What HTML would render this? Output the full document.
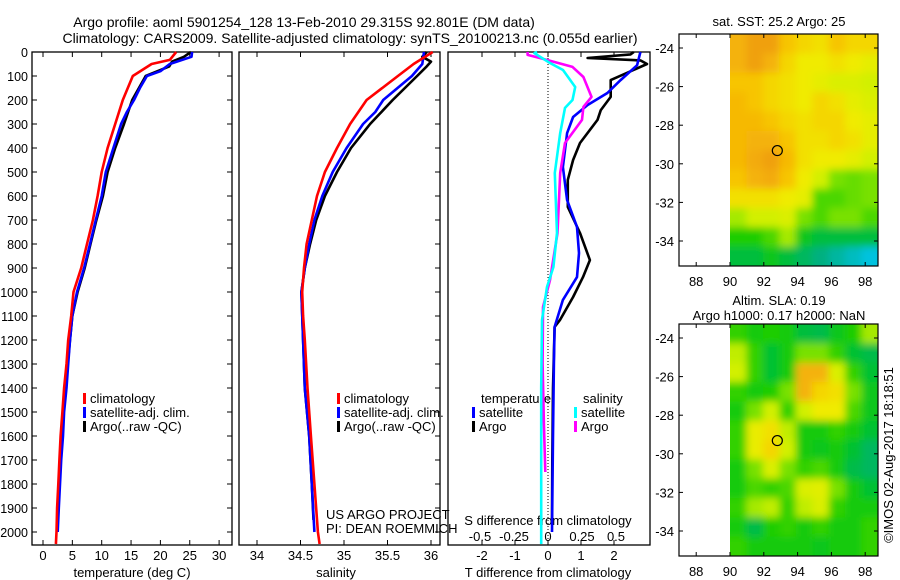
<!DOCTYPE html>
<html><head><meta charset="utf-8"><style>
html,body{margin:0;padding:0;background:#fff;}
svg{display:block;font-family:"Liberation Sans",sans-serif;}
</style></head><body>
<svg id="c" width="900" height="580" viewBox="0 0 900 580">
<defs><clipPath id="clipA"><rect x="730" y="34" width="148" height="232"/></clipPath><clipPath id="clipB"><rect x="730" y="324" width="148" height="232"/></clipPath>
<filter id="soft" x="-5%" y="-5%" width="110%" height="110%"><feGaussianBlur stdDeviation="4"/></filter></defs>
<text x="304" y="27" font-size="14" text-anchor="middle">Argo profile: aoml 5901254_128 13-Feb-2010 29.315S 92.801E (DM data)</text>
<text x="350" y="43" font-size="14" text-anchor="middle">Climatology: CARS2009. Satellite-adjusted climatology: synTS_20100213.nc (0.055d earlier)</text>
<text x="132" y="577" font-size="13" text-anchor="middle">temperature (deg C)</text>
<text x="336" y="577" font-size="13" text-anchor="middle">salinity</text>
<text x="548" y="577" font-size="13" text-anchor="middle">T difference from climatology</text>
<text x="548" y="525" font-size="13" text-anchor="middle">S difference from climatology</text>
<text x="326" y="519" font-size="13">US ARGO PROJECT</text>
<text x="326" y="533" font-size="13">PI: DEAN ROEMMICH</text>
<text x="779" y="26" font-size="13" text-anchor="middle">sat. SST: 25.2 Argo: 25</text>
<text x="779" y="305" font-size="13" text-anchor="middle">Altim. SLA: 0.19</text>
<text x="779" y="320" font-size="13" text-anchor="middle">Argo h1000: 0.17 h2000: NaN</text>
<text transform="translate(893,455) rotate(-90)" font-size="13" text-anchor="middle">©IMOS 02-Aug-2017 18:18:51</text>
</svg>
<script>
// depth axis
const depthTicks=[0,100,200,300,400,500,600,700,800,900,1000,1100,1200,1300,1400,1500,1600,1700,1800,1900,2000];
// temperature panel
const tTicks=[0,5,10,15,20,25,30];
const tClimD=[0,33,50,100,200,300,400,500,600,700,800,900,1000,1100,1200,1300,1400,1500,1600,1700,1800,1900,2000,2050];
const tClim=[22.7,21.6,18.5,15.3,13.6,12.3,11,10,9.3,8.5,7.5,6.5,5.2,4.8,4.3,4.0,3.6,3.3,3.0,2.8,2.6,2.4,2.3,2.2];
const tSatD=[0,20,50,80,100,150,200,250,300,400,500,600,700,800,900,1000,1100,1200,1300,1400,1500,1600,1700,1800,1900,2000];
const tSat=[25.4,25.3,21.6,20,17.7,16.5,15.5,14.3,13.3,12,10.7,10,9,8,7,5.8,5,4.6,4.3,4,3.6,3.4,3.1,2.9,2.7,2.5];
const tArgoD=[0,20,40,60,100,200,300,400,500,600,700,800,900,1000,1100,1200,1300,1400,1500,1600,1700,1800,1900,1950];
const tArgo=[25.2,24,22,21.5,17.5,15.2,13.8,12.3,11,10.2,9.1,8.1,7.1,5.9,5,4.6,4.2,3.9,3.5,3.3,3.0,2.8,2.6,2.5];
// salinity panel
const sTicks=[34,34.5,35,35.5,36];
const sTickLabels=["34","34.5","35","35.5","36"];
const sClimD=[0,50,100,200,300,400,500,600,700,800,900,1000,1100,1200,1400,1600,1800,2000,2050];
const sClim=[36.02,35.8,35.62,35.26,35.07,34.92,34.78,34.69,34.63,34.57,34.54,34.52,34.53,34.55,34.58,34.62,34.66,34.7,34.72];
const sSatD=[0,50,100,200,250,300,400,500,600,700,800,900,1000,1200,1400,1600,1800,2000];
const sSat=[35.92,35.9,35.78,35.45,35.36,35.22,35.03,34.87,34.75,34.66,34.6,34.55,34.51,34.53,34.55,34.6,34.63,34.66];
const sArgoD=[0,20,40,60,100,200,300,400,500,600,700,800,900,1000,1200,1400,1600,1800,1950];
const sArgo=[35.95,35.9,36.0,35.95,35.84,35.56,35.3,35.08,34.92,34.78,34.68,34.61,34.55,34.51,34.53,34.55,34.6,34.63,34.65];
// difference panel
const dtTicks=[-2,-1,0,1,2];
const dsTicks=[-0.5,-0.25,0,0.25,0.5];
const dsTickLabels=["-0.5","-0.25","0","0.25","0.5"];
const dTSatD=[0,55,117,171,221,271,338,479,617,729,838,938,1033,1146,1300,1600,2000];
const dTSat=[2.8,2.7,2.2,1.8,1.2,0.76,0.58,0.45,0.58,0.88,0.94,0.88,0.45,0.2,0.18,0.15,0.12];
const dTArgoD=[0,10,25,35,50,117,187,242,283,379,450,533,646,754,867,938,1021,1117,1146,1400,1700,1950];
const dTArgo=[2.6,2.5,1.2,2.8,3.0,1.9,1.9,1.6,1.5,0.97,0.76,0.6,0.6,0.97,1.27,1.06,0.76,0.36,0.2,0.15,0.13,0.12];
const dSSatD=[0,5,46,75,146,200,233,338,504,754,896,979,1117,1400,1700,2050];
const dSSat=[-0.08,-0.1,0.015,0.11,0.2,0.18,0.125,0.09,0.05,0.066,0.04,-0.007,-0.044,-0.05,-0.05,-0.05];
const dSArgoD=[0,12,25,62,104,187,229,283,379,504,754,950,1063,1300,1550,1750];
const dSArgo=[-0.15,-0.15,-0.06,0.18,0.26,0.32,0.26,0.25,0.125,0.09,0.07,0.015,-0.037,-0.04,-0.03,-0.02];
// maps
const lonTicks=[88,90,92,94,96,98];
const latTicks=[-24,-26,-28,-30,-32,-34];
const sstGrid=[
[.8,.85,.85,.75,.72,.7,.75,.72,.72],
[.8,.85,.8,.72,.68,.68,.7,.68,.65],
[.75,.75,.72,.7,.68,.65,.62,.62,.6],
[.78,.75,.72,.7,.68,.72,.7,.65,.62],
[.78,.78,.75,.72,.7,.72,.72,.68,.65],
[.78,.8,.8,.75,.7,.7,.72,.7,.65],
[.78,.82,.85,.78,.7,.68,.68,.65,.6],
[.75,.8,.82,.75,.68,.6,.5,.48,.5],
[.7,.7,.7,.68,.65,.45,.45,.48,.5],
[.55,.6,.6,.62,.5,.45,.5,.5,.45],
[.4,.4,.45,.55,.35,.3,.3,.3,.3],
[.3,.3,.35,.3,.25,.2,.15,.1,.05]];
const slaGrid=[
[.42,.38,.4,.38,.3,.28,.35,.4,.55],
[.58,.42,.32,.38,.5,.5,.42,.32,.28],
[.6,.42,.32,.38,.8,.8,.62,.42,.32],
[.42,.38,.4,.5,.8,.72,.7,.5,.35],
[.38,.5,.6,.42,.6,.68,.68,.45,.35],
[.42,.66,.7,.58,.38,.38,.42,.38,.32],
[.42,.66,.72,.6,.38,.35,.38,.32,.25],
[.38,.5,.62,.5,.42,.45,.38,.28,.25],
[.38,.45,.42,.45,.62,.64,.5,.38,.32],
[.42,.55,.58,.42,.58,.62,.42,.38,.38],
[.38,.28,.4,.42,.38,.42,.38,.38,.42],
[.42,.38,.38,.38,.38,.35,.38,.38,.42]];
const floatLon=92.8, floatLat=-29.315;

const svg=document.getElementById('c');
const NS='http://www.w3.org/2000/svg';
function mk(tag,attrs,parent){const e=document.createElementNS(NS,tag);for(const k in attrs)e.setAttribute(k,attrs[k]);(parent||svg).appendChild(e);return e;}
const yD=d=>52+d*0.24;
const Y0=52,Y1=545;
function axisBox(x0,x1,name){
  const g=mk('g',{});
  
  
  mk('rect',{x:x0,y:Y0,width:x1-x0,height:Y1-Y0,fill:'none',stroke:'#000','stroke-width':1.3},g);
  return g;
}
function line(xs,ds,fx,color,name,w){
  let p='';for(let i=0;i<xs.length;i++)p+=(i?'L':'M')+fx(xs[i]).toFixed(1)+','+yD(ds[i]).toFixed(1);
  const e=mk('path',{d:p,fill:'none',stroke:color,'stroke-width':w||2.6,'stroke-linejoin':'round'});
  
  
}
function legend(x,y,color,label,name){
  const g=mk('g',{});
  
  
  mk('rect',{x:x,y:y-10,width:3,height:11,fill:color},g);
  const t=mk('text',{x:x+7,y:y,'font-size':13},g);t.textContent=label;
}
// Panel 1
const xT=v=>43+v*5.87;
const g1=axisBox(32,232,'temperature-panel');
depthTicks.forEach(d=>{
  mk('line',{x1:32,x2:37,y1:yD(d),y2:yD(d),stroke:'#000'},g1);
  mk('line',{x1:232,x2:227,y1:yD(d),y2:yD(d),stroke:'#000'},g1);
  const t=mk('text',{x:28,y:yD(d)+5,'font-size':12.5,'text-anchor':'end'},g1);t.textContent=d;
});
tTicks.forEach(v=>{
  mk('line',{x1:xT(v),x2:xT(v),y1:Y0,y2:Y0+5,stroke:'#000'},g1);
  mk('line',{x1:xT(v),x2:xT(v),y1:Y1,y2:Y1-5,stroke:'#000'},g1);
  const t=mk('text',{x:xT(v),y:560,'font-size':13,'text-anchor':'middle'},g1);t.textContent=v;
});
line(tArgo,tArgoD,xT,'#000','temp-argo-line');
line(tSat,tSatD,xT,'#0000ff','temp-satellite-line');
line(tClim,tClimD,xT,'#ff0000','temp-climatology-line');
legend(83,403,'#ff0000','climatology','temp-legend-climatology');
legend(83,417,'#0000ff','satellite-adj. clim.','temp-legend-satellite');
legend(83,431,'#000','Argo(..raw -QC)','temp-legend-argo');
// Panel 2
const xS=v=>257+(v-34)*87;
const g2=axisBox(239,440,'salinity-panel');
depthTicks.forEach(d=>{
  mk('line',{x1:440,x2:435,y1:yD(d),y2:yD(d),stroke:'#000'},g2);
});
sTicks.forEach((v,i)=>{
  mk('line',{x1:xS(v),x2:xS(v),y1:Y0,y2:Y0+5,stroke:'#000'},g2);
  mk('line',{x1:xS(v),x2:xS(v),y1:Y1,y2:Y1-5,stroke:'#000'},g2);
  const t=mk('text',{x:xS(v),y:560,'font-size':13,'text-anchor':'middle'},g2);t.textContent=sTickLabels[i];
});
line(sArgo,sArgoD,xS,'#000','sal-argo-line');
line(sSat,sSatD,xS,'#0000ff','sal-satellite-line');
line(sClim,sClimD,xS,'#ff0000','sal-climatology-line');
legend(337,403,'#ff0000','climatology','sal-legend-climatology');
legend(337,417,'#0000ff','satellite-adj. clim.','sal-legend-satellite');
legend(337,431,'#000','Argo(..raw -QC)','sal-legend-argo');
// Panel 3
const xDT=v=>548+v*33, xDS=v=>548+v*136;
const g3=axisBox(448,650,'difference-panel');
mk('line',{x1:548,x2:548,y1:Y0,y2:Y1,stroke:'#000','stroke-dasharray':'1,2'},g3);
dtTicks.forEach(v=>{
  mk('line',{x1:xDT(v),x2:xDT(v),y1:Y0,y2:Y0+5,stroke:'#000'},g3);
  mk('line',{x1:xDT(v),x2:xDT(v),y1:Y1,y2:Y1-5,stroke:'#000'},g3);
  const t=mk('text',{x:xDT(v),y:560,'font-size':13,'text-anchor':'middle'},g3);t.textContent=v;
});
dsTicks.forEach((v,i)=>{
  const t=mk('text',{x:xDS(v),y:541,'font-size':13,'text-anchor':'middle'},g3);t.textContent=dsTickLabels[i];
});
line(dTArgo,dTArgoD,xDT,'#000','tdiff-argo-line');
line(dTSat,dTSatD,xDT,'#0000ff','tdiff-satellite-line');
line(dSArgo,dSArgoD,xDS,'#ff00ff','sdiff-argo-line');
line(dSSat,dSSatD,xDS,'#00ffff','sdiff-satellite-line');
{const t=mk('text',{x:481,y:403,'font-size':13},g3);t.textContent='temperature';}
{const t=mk('text',{x:583,y:403,'font-size':13},g3);t.textContent='salinity';}
legend(472,417,'#0000ff','satellite','tdiff-legend-satellite');
legend(472,431,'#000','Argo','tdiff-legend-argo');
legend(574,417,'#00ffff','satellite','sdiff-legend-satellite');
legend(574,431,'#ff00ff','Argo','sdiff-legend-argo');
// colormap
const stops=[[0,[0,200,255]],[0.2,[0,176,128]],[0.3,[0,190,60]],[0.4,[30,205,0]],[0.5,[120,225,0]],[0.6,[210,240,0]],[0.68,[240,235,0]],[0.76,[248,192,0]],[0.85,[240,160,16]],[1,[230,120,10]]];
function cmap(v){for(let i=1;i<stops.length;i++){if(v<=stops[i][0]){const a=stops[i-1],b=stops[i],f=(v-a[0])/(b[0]-a[0]);return 'rgb('+a[1].map((c,j)=>Math.round(c+(b[1][j]-c)*f)).join(',')+')';}}return 'rgb(230,120,10)';}
function drawMap(top,grid,name,clip){
  const g=mk('g',{});
  
  
  const xL=lon=>730+(lon-90)*16.9, yL=lat=>top+14+(-24-lat)*19.3;
  const mx0=730,mx1=878,my0=top,my1=top+232;
  const rows=grid.length,cols=grid[0].length,cw=(mx1-mx0)/cols,ch=(my1-my0)/rows;
  const cg=mk('g',{'clip-path':'url(#'+clip+')'},g);
  const bg=mk('g',{filter:'url(#soft)'},cg);
  grid.forEach((row,r)=>row.forEach((v,c)=>{
    const x=mx0+c*cw-(c===0?12:0), y=my0+r*ch-(r===0?12:0);
    const w=cw+0.5+(c===0?12:0)+(c===cols-1?12:0), h=ch+0.5+(r===0?12:0)+(r===rows-1?12:0);
    const e=mk('rect',{x:x,y:y,width:w,height:h,fill:cmap(v)},bg);
    
    
  }));
  mk('rect',{x:679,y:top,width:199,height:232,fill:'none',stroke:'#000','stroke-width':1.2},g);
  lonTicks.forEach(v=>{
    mk('line',{x1:xL(v),x2:xL(v),y1:my1,y2:my1-4,stroke:'#000'},g);
    mk('line',{x1:xL(v),x2:xL(v),y1:my0,y2:my0+4,stroke:'#000'},g);
    const t=mk('text',{x:xL(v),y:my1+20,'font-size':13,'text-anchor':'middle'},g);t.textContent=v;
  });
  latTicks.forEach(v=>{
    mk('line',{x1:679,x2:683,y1:yL(v),y2:yL(v),stroke:'#000'},g);
    mk('line',{x1:878,x2:874,y1:yL(v),y2:yL(v),stroke:'#000'},g);
    const t=mk('text',{x:674,y:yL(v)+5,'font-size':13,'text-anchor':'end'},g);t.textContent=v;
  });
  const c=mk('circle',{cx:xL(floatLon),cy:yL(floatLat),r:5,fill:'none',stroke:'#000','stroke-width':1.2},g);
  
  
}
drawMap(34,sstGrid,'sst-map','clipA');
drawMap(324,slaGrid,'sla-map','clipB');
</script>
</body></html>
